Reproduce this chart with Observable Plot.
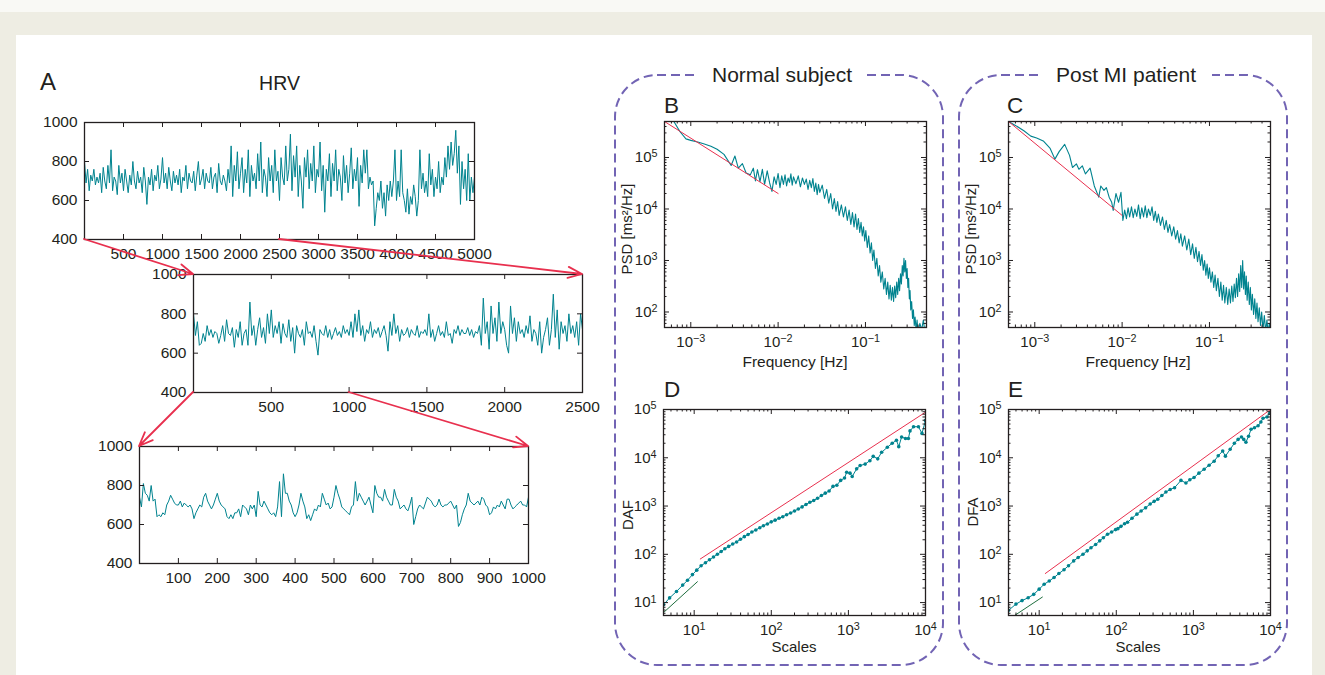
<!DOCTYPE html>
<html><head><meta charset="utf-8">
<script src="https://cdn.jsdelivr.net/npm/d3@7"></script>
<script src="https://cdn.jsdelivr.net/npm/@observablehq/plot@0.6"></script>
<style>
html,body{margin:0;padding:0;background:#f9f9f5;}
#page{position:relative;width:1325px;height:675px;overflow:hidden;font-family:"Liberation Sans",Arial,Helvetica,sans-serif;}
#beige{position:absolute;left:0;top:12px;width:1325px;height:663px;background:#eeede3;}
#panel{position:absolute;left:16px;top:35px;width:1296px;height:640px;background:#ffffff;}
#overlay{position:absolute;left:0;top:0;pointer-events:none;}
</style></head>
<body><div id="page"><div id="beige"></div><div id="panel"></div></div>
<script>
// ---------------- DATA ----------------
// HRV RR-interval series (ms), panel A
const hrvTopStep = 20;   // samples between listed values
const hrvTop = [
800,690,760,650,730,700,760,680,720,690,
740,640,770,700,660,780,690,860,650,720,
700,630,780,690,740,650,760,700,640,730,
680,800,700,660,750,690,720,640,770,700,
580,720,680,760,650,730,700,780,660,710,
820,690,740,660,770,700,650,750,690,730,
680,760,640,720,700,780,660,740,700,690,
750,650,730,800,680,710,760,660,740,700,
690,770,660,720,740,640,790,700,680,730,
700,650,760,690,880,620,780,700,850,660,
740,820,640,760,690,860,620,780,700,740,
660,840,700,900,640,760,720,620,820,700,
780,640,860,700,750,600,820,720,680,880,
700,760,940,650,830,720,880,620,780,700,
560,820,720,860,660,790,700,880,640,760,
720,900,650,780,540,760,700,840,620,790,
700,860,650,760,720,600,830,690,780,640,
740,870,660,760,700,820,570,780,690,860,
740,860,660,720,680,700,470,560,640,600,
700,560,640,520,680,600,700,620,700,860,
600,700,620,860,640,600,540,660,530,620,
580,680,620,520,600,860,660,740,640,700,
620,840,680,760,620,720,660,800,640,720,
680,820,720,880,760,900,780,840,960,740,
880,580,800,660,760,600,840,600,720,640,
720];
const hrvMidStep = 12.5;
const hrvMid = [
800,690,760,640,650,700,660,740,690,720,680,710,700,650,690,740,660,770,700,690,
730,630,720,680,760,640,700,720,640,860,690,740,640,720,780,680,730,650,800,700,
820,680,740,700,760,650,750,700,680,770,660,730,600,740,700,680,720,640,760,700,
710,680,740,660,590,720,700,690,740,680,720,670,700,730,690,710,680,740,700,720,
690,760,680,800,710,820,690,740,660,720,700,760,680,720,700,730,680,710,740,690,
610,760,690,800,700,740,660,720,690,700,730,680,720,700,690,740,680,710,700,720,
690,800,680,720,660,700,740,690,710,680,760,690,700,650,720,700,740,690,720,700,
700,730,690,720,680,710,700,740,640,880,700,760,620,840,700,780,660,860,700,760,
720,640,600,840,700,780,660,760,700,720,680,740,700,790,660,720,700,640,760,600,
680,720,780,640,720,900,680,820,620,760,700,740,660,800,700,740,680,760,640,800,
720];
const hrvBotStep = 5;
const hrvBot = [
740,690,810,760,750,720,800,720,730,640,
650,640,660,650,700,720,750,730,710,700,
700,720,690,710,700,690,700,680,630,660,
680,700,690,740,760,720,700,680,700,730,
760,720,700,690,680,640,630,650,630,660,
660,680,640,700,690,680,650,700,680,700,
640,770,700,690,720,700,680,660,650,660,
640,690,820,640,860,760,760,720,700,660,
640,660,700,760,720,690,630,650,620,650,
680,670,700,690,760,730,700,710,680,690,
740,800,760,730,690,680,670,660,650,690,
700,820,720,760,740,720,700,720,740,700,
660,800,760,740,740,720,780,740,720,700,
700,780,740,720,680,690,700,680,670,700,
740,600,640,680,700,690,680,710,740,730,
720,700,690,700,730,700,690,700,700,710,
720,700,680,700,590,610,650,680,700,760,
720,710,700,710,720,700,740,730,700,690,
650,660,690,680,700,690,720,700,680,730,
730,700,680,690,700,710,720,700,700,690,
740];
const hrvYTicks = [400,600,800,1000];
const hrvTopTicks = [500,1000,1500,2000,2500,3000,3500,4000,4500,5000];
const hrvMidTicks = [500,1000,1500,2000,2500];
const hrvBotTicks = [100,200,300,400,500,600,700,800,900,1000];

// Power spectral density [frequency Hz, PSD ms^2/Hz]
const psdNormal = [
[0.0006,6.0e5],[0.00075,3.2e5],[0.00088,2.3e5],[0.001,2.15e5],[0.0012,2.0e5],[0.0014,1.85e5],
[0.0017,1.65e5],[0.002,1.45e5],[0.0024,1.15e5],[0.0029,7.0e4],[0.0032,1.07e5],[0.0035,6.2e4],
[0.0039,7.6e4],[0.0043,5.0e4],[0.0048,4.6e4],[0.0052,6.2e4],[0.0055,3.5e4],[0.0058,5.8e4],
[0.0062,3.4e4],[0.0066,5.9e4],[0.0070,3.0e4],[0.0075,5.5e4],[0.0080,3.2e4],[0.0085,2.2e4],
[0.0090,4.2e4],[0.0095,3.0e4],[0.0100,4.9e4],[0.0105,2.6e4],[0.011,4.4e4],[0.0115,3.0e4],
[0.012,4.6e4],[0.0125,2.8e4],[0.013,4.0e4],[0.0135,3.3e4],[0.014,4.8e4],[0.0145,2.9e4],
[0.015,4.2e4],[0.016,3.1e4],[0.017,4.4e4],[0.018,2.7e4],[0.019,4.0e4],[0.020,3.0e4],
[0.021,3.8e4],[0.022,2.4e4],[0.023,3.6e4],[0.024,2.6e4],[0.025,3.9e4],[0.026,2.2e4],
[0.027,3.2e4],[0.028,1.9e4],[0.029,3.0e4],[0.030,2.1e4],[0.032,2.9e4],[0.034,1.6e4],
[0.036,2.4e4],[0.038,1.3e4],[0.040,2.0e4],[0.042,1.0e4],[0.044,1.6e4],[0.046,9.0e3],
[0.048,1.4e4],[0.050,7.5e3],[0.053,1.2e4],[0.056,7.0e3],[0.059,1.1e4],[0.062,6.0e3],
[0.065,9.5e3],[0.068,5.0e3],[0.071,8.5e3],[0.074,4.5e3],[0.077,8.0e3],[0.080,4.0e3],
[0.083,6.5e3],[0.086,3.5e3],[0.089,5.5e3],[0.092,3.0e3],[0.095,4.5e3],[0.098,2.4e3],
[0.101,3.8e3],[0.105,1.8e3],[0.109,3.0e3],[0.113,1.4e3],[0.117,2.2e3],[0.121,1.0e3],
[0.125,1.6e3],[0.130,700],[0.135,1.1e3],[0.140,500],[0.145,800],[0.150,380],
[0.156,600],[0.162,280],[0.168,450],[0.174,220],[0.180,380],[0.186,180],
[0.192,330],[0.198,170],[0.204,300],[0.210,160],[0.216,320],[0.222,190],
[0.228,380],[0.234,220],[0.240,450],[0.246,260],[0.252,550],[0.258,350],
[0.264,800],[0.270,500],[0.276,1.1e3],[0.282,600],[0.288,1.0e3],[0.294,450],
[0.300,700],[0.306,300],[0.312,450],[0.318,180],[0.324,260],[0.330,110],
[0.338,160],[0.346,75],[0.354,110],[0.362,55],[0.370,80],[0.380,45],
[0.390,70],[0.400,40],[0.42,60],[0.44,45],[0.46,70],[0.48,40],[0.50,55]];
const psdPost = [
[0.0005,5.0e5],[0.0006,4.2e5],[0.00075,3.3e5],[0.0009,2.6e5],[0.00105,2.4e5],[0.00125,2.1e5],
[0.0015,1.5e5],[0.0017,9.3e4],[0.0019,1.3e5],[0.0022,1.8e5],[0.0025,1.1e5],[0.0027,6.4e4],
[0.0030,7.5e4],[0.0032,5.9e4],[0.0035,6.9e4],[0.0038,4.8e4],[0.0043,6.2e4],[0.0048,2.8e4],
[0.0054,1.7e4],[0.0057,2.8e4],[0.0062,2.3e4],[0.0066,2.6e4],[0.0071,1.7e4],[0.0076,1.35e4],
[0.0079,9.4e3],[0.0085,2.0e4],[0.0091,1.35e4],[0.0097,2.1e4],[0.0102,6.0e3],[0.0107,9.5e3],
[0.0112,6.5e3],[0.0117,1.05e4],[0.0122,7.0e3],[0.0128,1.1e4],[0.0134,6.8e3],[0.014,1.0e4],
[0.0147,7.2e3],[0.0154,1.2e4],[0.0161,6.5e3],[0.0168,1.05e4],[0.0176,7.0e3],[0.0184,1.15e4],
[0.0192,6.8e3],[0.020,1.0e4],[0.021,7.5e3],[0.022,1.1e4],[0.023,6.0e3],[0.024,9.0e3],
[0.025,5.5e3],[0.026,8.0e3],[0.0275,4.8e3],[0.029,7.0e3],[0.0305,4.0e3],[0.032,6.0e3],
[0.0335,3.5e3],[0.035,5.0e3],[0.037,3.0e3],[0.039,4.5e3],[0.041,2.6e3],[0.043,3.8e3],
[0.045,2.2e3],[0.047,3.3e3],[0.049,1.9e3],[0.052,3.0e3],[0.055,1.6e3],[0.058,2.6e3],
[0.061,1.3e3],[0.064,2.1e3],[0.067,1.1e3],[0.070,1.8e3],[0.073,950],[0.076,1.5e3],
[0.079,800],[0.082,1.3e3],[0.085,650],[0.088,1.0e3],[0.091,520],[0.094,850],
[0.097,450],[0.100,720],[0.104,380],[0.108,600],[0.112,300],[0.116,520],
[0.120,260],[0.125,450],[0.130,200],[0.135,380],[0.140,170],[0.145,330],
[0.150,150],[0.156,300],[0.162,140],[0.168,280],[0.174,150],[0.180,320],
[0.186,160],[0.192,350],[0.198,190],[0.204,450],[0.210,200],[0.216,550],
[0.222,250],[0.228,800],[0.234,300],[0.240,1.0e3],[0.246,280],[0.252,600],
[0.258,220],[0.264,500],[0.270,170],[0.278,380],[0.286,140],[0.294,300],
[0.302,110],[0.310,220],[0.320,90],[0.330,180],[0.340,75],[0.350,150],
[0.360,65],[0.372,120],[0.384,55],[0.396,100],[0.41,45],[0.425,85],
[0.44,42],[0.455,70],[0.47,40],[0.485,60],[0.50,48]];
const psdNormalFit = [[0.0005,5.0e5],[0.01,2.0e4]];
const psdPostFit = [[0.0005,5.0e5],[0.01,7.5e3]];
const psdXTicks = [0.001,0.01,0.1];
const psdXLabels = ["10\u207B\u00B3","10\u207B\u00B2","10\u207B\u00B9"];
const psdYTicks = [100,1000,10000,100000];
const psdYLabels = ["10\u00B2","10\u00B3","10\u2074","10\u2075"];

// Detrended fluctuation analysis [scale, F]
const dfaNormal = [
[4,9],[4.8,12.5],[5.9,17],[7.1,23],[8.2,29],[9.5,38],[10.8,47],[12.3,58],[14,67],[15.8,77],
[17.8,88],[20,100],[22.4,114],[25,130],[28,146],[31.6,163],[35.5,180],[39.8,205],[44.7,232],
[50,258],[56,290],[63,320],[71,355],[79,390],[89,425],[100,470],[112,510],[126,560],[141,600],
[158,660],[178,720],[200,790],[224,870],[251,960],[282,1080],[316,1200],[355,1300],[398,1450],
[447,1650],[501,1850],[562,2050],[631,2550],[708,2700],[794,3400],[891,3800],[950,5000],
[1050,4800],[1120,4100],[1280,5900],[1420,6900],[1650,7400],[1900,8700],[2100,10700],
[2400,9500],[2700,13000],[3200,16500],[3700,20000],[4200,23000],[4500,17000],[4900,27000],
[5500,25000],[6000,25000],[6300,36000],[7000,44000],[8100,44000],[9000,32000],[10000,59000]];
const dfaPost = [
[4,6.9],[5,9.3],[6,11],[7.2,12.6],[8.5,14.8],[10,19],[11.6,24],[13.5,28],[15.6,33],[18,40],
[21,48],[24,58],[28,73],[32,86],[37,100],[42,118],[47,137],[54,160],[61,190],[68,220],
[77,260],[87,290],[98,325],[105,340],[115,380],[128,430],[140,460],[160,560],[185,680],
[210,790],[240,920],[275,1100],[310,1250],[345,1380],[390,1650],[440,1950],[500,2200],
[570,2400],[690,3400],[800,3000],[900,3500],[1020,3900],[1180,4800],[1380,5800],[1600,7000],
[1860,8500],[2100,11000],[2400,13800],[2600,10800],[3000,15000],[3400,20000],[3800,24000],
[4200,27000],[4500,24000],[4800,21000],[5200,28000],[5600,39000],[6200,42000],[6900,46000],
[7500,55000],[8000,66000],[9000,70000],[9800,84000]];
const dfaNormalFitRed = [[12,80],[10000,88000]];
const dfaNormalFitGreen = [[4,6.2],[11,27]];
const dfaPostFitRed = [[12,40],[10000,100000]];
const dfaPostFitGreen = [[4.8,5.4],[11,13]];
const dfaXTicks = [10,100,1000,10000];
const dfaXLabels = ["10\u00B9","10\u00B2","10\u00B3","10\u2074"];
const dfaYTicks = [10,100,1000,10000,100000];
const dfaYLabels = ["10\u00B9","10\u00B2","10\u00B3","10\u2074","10\u2075"];

// ---------------- STYLE ----------------
const FONT = '"Liberation Sans", Arial, Helvetica, sans-serif';
const INK = "#231f20";
const TEAL = "#00838f";
const RED = "#e8304e";
const GREEN = "#1f6e3e";
const PURPLE = "#7264b4";

const page = document.getElementById("page");

function logMinor(lo, hi) {
  const out = [];
  for (let e = Math.floor(Math.log10(lo)); e <= Math.ceil(Math.log10(hi)); e++) {
    for (let k = 2; k <= 9; k++) {
      const v = k * Math.pow(10, e);
      if (v > lo && v < hi) out.push(v);
    }
  }
  return out;
}

function inTicks(xv, yv, w, h, len) {
  return [
    Plot.tickX(xv, {x: d => d, insetTop: h - len, stroke: INK, strokeWidth: 1}),
    Plot.tickX(xv, {x: d => d, insetBottom: h - len, stroke: INK, strokeWidth: 1}),
    Plot.tickY(yv, {y: d => d, insetRight: w - len, stroke: INK, strokeWidth: 1}),
    Plot.tickY(yv, {y: d => d, insetLeft: w - len, stroke: INK, strokeWidth: 1})
  ];
}

// turn unicode superscripts in tick labels into real raised text
const SUP = {"\u207B": "\u2212", "\u2070": "0", "\u00B9": "1", "\u00B2": "2", "\u00B3": "3", "\u2074": "4", "\u2075": "5"};
function raiseExponents(svgNode) {
  svgNode.querySelectorAll("text").forEach(t => {
    const s = t.textContent;
    const m = /^10([\u207B\u2070\u00B9\u00B2\u00B3\u2074\u2075]+)$/.exec(s);
    if (!m) return;
    const exp = [...m[1]].map(c => SUP[c]).join("");
    t.textContent = "10";
    const ts = document.createElementNS("http://www.w3.org/2000/svg", "tspan");
    ts.setAttribute("dy", "-0.45em");
    ts.setAttribute("font-size", "72%");
    ts.textContent = exp;
    t.appendChild(ts);
  });
}

function panel(o) {
  const ml = o.ml ?? 50, mr = o.mr ?? 22, mt = 10, mb = 30;
  const xMinor = o.xMinor || [], yMinor = o.yMinor || [];
  const p = Plot.plot({
    width: ml + o.w + mr, height: mt + o.h + mb,
    marginLeft: ml, marginRight: mr, marginTop: mt, marginBottom: mb,
    style: {fontFamily: FONT, fontSize: o.fontSize || "15px", color: INK, background: "transparent", overflow: "visible"},
    x: {type: o.xType || "linear", domain: o.xDomain, ticks: o.xTicks,
        tickFormat: d => o.xLabels ? o.xLabels[o.xTicks.indexOf(d)] : String(d),
        tickSize: 0, tickPadding: o.xPad ?? 8, label: null},
    y: {type: o.yType || "linear", domain: o.yDomain, ticks: o.yTicks,
        tickFormat: d => o.yLabels ? o.yLabels[o.yTicks.indexOf(d)] : String(d),
        tickSize: 0, tickPadding: 7, label: null},
    marks: [
      ...o.marks,
      ...inTicks(xMinor, yMinor, o.w, o.h, 2.5),
      ...inTicks(o.xTicks, o.yTicks, o.w, o.h, 5),
      Plot.frame({stroke: INK, strokeWidth: 1.3})
    ]
  });
  raiseExponents(p);
  p.style.position = "absolute";
  p.style.left = (o.left - ml) + "px";
  p.style.top = (o.top - mt) + "px";
  page.appendChild(p);
  const sx = p.scale("x"), sy = p.scale("y");
  return {
    X: v => o.left - ml + sx.apply(v),
    Y: v => o.top - mt + sy.apply(v)
  };
}

const hrvLine = (arr, step) => Plot.line(arr, {x: (d, i) => i * step, y: d => d, stroke: TEAL, strokeWidth: 1, clip: true});

const A1 = panel({left: 84, top: 122, w: 390, h: 117, xDomain: [0, 5000], xTicks: hrvTopTicks,
  yDomain: [400, 1000], yTicks: hrvYTicks, marks: [hrvLine(hrvTop, hrvTopStep)], fontSize: "15.5px"});
const A2 = panel({left: 193, top: 274, w: 389, h: 118, xDomain: [0, 2500], xTicks: hrvMidTicks,
  yDomain: [400, 1000], yTicks: hrvYTicks, marks: [hrvLine(hrvMid, hrvMidStep)], fontSize: "15.5px"});
const A3 = panel({left: 139, top: 446, w: 389, h: 117, xDomain: [0, 1000], xTicks: hrvBotTicks,
  yDomain: [400, 1000], yTicks: hrvYTicks, marks: [hrvLine(hrvBot, hrvBotStep)], fontSize: "15.5px"});

const psdDom = {x: [0.0005, 0.5], y: [50, 5e5]};
function psdPanel(left, data, fit) {
  return panel({left, top: 121, w: 262, h: 206, ml: 46, xPad: 9,
    xType: "log", xDomain: psdDom.x, xTicks: psdXTicks, xLabels: psdXLabels, xMinor: logMinor(...psdDom.x),
    yType: "log", yDomain: psdDom.y, yTicks: psdYTicks, yLabels: psdYLabels, yMinor: logMinor(...psdDom.y),
    marks: [
      Plot.line(data, {x: d => d[0], y: d => d[1], stroke: TEAL, strokeWidth: 1.1, clip: true}),
      Plot.line(fit, {x: d => d[0], y: d => d[1], stroke: RED, strokeWidth: 1, clip: true})
    ]});
}
psdPanel(664, psdNormal, psdNormalFit);
psdPanel(1008, psdPost, psdPostFit);

const dfaDom = {x: [4, 10000], y: [5.4, 1e5]};
function dfaPanel(left, data, red, green) {
  return panel({left, top: 409, w: 262, h: 206, ml: 46, xPad: 9,
    xType: "log", xDomain: dfaDom.x, xTicks: dfaXTicks, xLabels: dfaXLabels, xMinor: logMinor(...dfaDom.x),
    yType: "log", yDomain: dfaDom.y, yTicks: dfaYTicks, yLabels: dfaYLabels, yMinor: logMinor(...dfaDom.y),
    marks: [
      Plot.line(red, {x: d => d[0], y: d => d[1], stroke: RED, strokeWidth: 1, clip: true}),
      Plot.line(green, {x: d => d[0], y: d => d[1], stroke: GREEN, strokeWidth: 1, clip: true}),
      Plot.line(data, {x: d => d[0], y: d => d[1], stroke: TEAL, strokeWidth: 1, clip: true}),
      Plot.dot(data, {x: d => d[0], y: d => d[1], r: 1.8, fill: TEAL, stroke: "none", clip: true})
    ]});
}
dfaPanel(663, dfaNormal, dfaNormalFitRed, dfaNormalFitGreen);
dfaPanel(1008, dfaPost, dfaPostFitRed, dfaPostFitGreen);

// ---------------- OVERLAY (boxes, arrows, titles) ----------------
const svg = d3.select("#page").append("svg").attr("id", "overlay")
  .attr("width", 1325).attr("height", 675)
  .style("font-family", FONT).style("fill", INK);

function roundBox(x0, y0, x1, y1, r) {
  return `M${x0 + r},${y0}H${x1 - r}A${r},${r} 0 0 1 ${x1},${y0 + r}V${y1 - r}A${r},${r} 0 0 1 ${x1 - r},${y1}` +
         `H${x0 + r}A${r},${r} 0 0 1 ${x0},${y1 - r}V${y0 + r}A${r},${r} 0 0 1 ${x0 + r},${y0}Z`;
}
function groupBox(x0, x1, title, gap0, gap1) {
  svg.append("path").attr("d", roundBox(x0, 75, x1, 665, 42))
    .attr("fill", "none").attr("stroke", PURPLE).attr("stroke-width", 2).attr("stroke-dasharray", "9 5");
  svg.append("rect").attr("x", gap0).attr("y", 66).attr("width", gap1 - gap0).attr("height", 18).attr("fill", "#fff");
  svg.append("text").attr("x", (gap0 + gap1) / 2).attr("y", 81.5).attr("text-anchor", "middle")
    .attr("font-size", 21).attr("fill", INK).text(title);
}
groupBox(615, 943, "Normal subject", 697, 867);
groupBox(959, 1287, "Post MI patient", 1040, 1212);

function label(x, y, s, size, anchor = "start", rotate = false) {
  const t = svg.append("text").attr("font-size", size).attr("fill", INK).attr("text-anchor", anchor).text(s);
  if (rotate) t.attr("transform", `translate(${x},${y}) rotate(-90)`);
  else t.attr("x", x).attr("y", y);
}
label(40, 90, "A", 24);
label(279.5, 90, "HRV", 19.5, "middle");
label(664, 112.5, "B", 22.5);
label(1007, 112.5, "C", 22.5);
label(664, 397, "D", 22.5);
label(1008, 397, "E", 22.5);
label(631.5, 229, "PSD [ms\u00B2/Hz]", 15, "middle", true);
label(976, 229, "PSD [ms\u00B2/Hz]", 15, "middle", true);
label(795, 367, "Frequency [Hz]", 15.5, "middle");
label(1138, 367, "Frequency [Hz]", 15.5, "middle");
label(632.5, 515, "DAF", 15, "middle", true);
label(977.5, 512, "DFA", 15, "middle", true);
label(794, 651.5, "Scales", 15, "middle");
label(1138, 651.5, "Scales", 15, "middle");

function arrow(x1, y1, x2, y2) {
  const a = Math.atan2(y2 - y1, x2 - x1), L = 15, s = 0.38;
  const d = `M${x1},${y1}L${x2},${y2}` +
    `M${x2 - L * Math.cos(a - s)},${y2 - L * Math.sin(a - s)}L${x2},${y2}L${x2 - L * Math.cos(a + s)},${y2 - L * Math.sin(a + s)}`;
  svg.append("path").attr("d", d).attr("fill", "none").attr("stroke", RED).attr("stroke-width", 1.8)
    .attr("stroke-linecap", "round").attr("stroke-linejoin", "round");
}
arrow(A1.X(0), A1.Y(400), A2.X(0), A2.Y(1000));
arrow(A1.X(2500), A1.Y(400), A2.X(2500), A2.Y(1000));
arrow(A2.X(0), A2.Y(400), A3.X(0), A3.Y(1000));
arrow(A2.X(1000), A2.Y(400), A3.X(1000), A3.Y(1000));
</script></body></html>
